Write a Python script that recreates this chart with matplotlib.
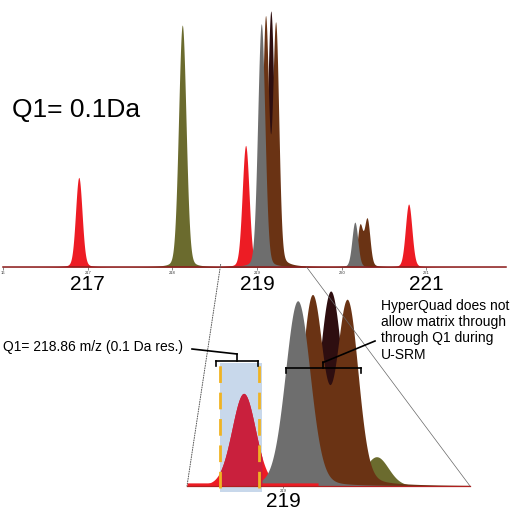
import numpy as np
import matplotlib
matplotlib.use("Agg")
import matplotlib.pyplot as plt
from matplotlib.lines import Line2D
from matplotlib.patches import Rectangle, ConnectionPatch

plt.rcParams['font.family'] = ['Liberation Sans', 'DejaVu Sans']

# peaks (m/z, relative height, sigma in Da)
peak_mz = [216.895, 218.117, 218.865, 219.05, 219.10, 219.163, 219.22,
           220.155, 220.215, 220.30, 220.79]
peak_height = [35, 94.5, 47.5, 95, 96, 100, 93.5, 17.5, 15.7, 18.4, 24.6]
peak_sigma = [0.038, 0.044, 0.040, 0.042, 0.036, 0.040, 0.036,
              0.034, 0.030, 0.032, 0.038]
peak_kind = ['red', 'olive', 'red', 'grey', 'brown', 'dark', 'brown',
             'grey', 'brown', 'brown', 'red']

# extra small matrix peak only seen in the zoomed trace
inset_extra_mz = [219.32]
inset_extra_height = [15]
inset_extra_sigma = [0.04]
inset_extra_kind = ['olive']

# low red baseline of the analyte trace in the zoomed view
red_floor_level = 1.6
red_floor_end = 219.12

colors = {'red': '#ED1C24', 'olive': '#6B6B2E', 'grey': '#6E6E6E',
          'brown': '#6A3314', 'dark': '#2E0E10'}
zorders = {'olive': 1, 'dark': 2, 'brown': 3, 'red': 4, 'grey': 5}

top_ticks = [216, 217, 218, 219, 220, 221]
top_ticklabels = ['16', '217', '218', '219', '220', '221']
big_labels = [217, 219, 221]

q1_window = (218.784, 218.928)


def profile(x, mz, h, s):
    # pseudo-voigt, mostly gaussian with a bit of tail
    g = np.exp(-(x - mz) ** 2 / (2 * s ** 2))
    gam = 0.06
    lo = gam ** 2 / ((x - mz) ** 2 + gam ** 2)
    return h * (0.9 * g + 0.1 * lo)


def draw_peaks(ax, x, mzs, hs, ss, kinds):
    curves = {}
    for mz, h, s, k in zip(mzs, hs, ss, kinds):
        curves.setdefault(k, np.zeros_like(x))
        curves[k] = curves[k] + profile(x, mz, h, s)
    for k, y in curves.items():
        ax.fill_between(x, 0, y, color=colors[k], lw=0, zorder=zorders[k])
    return curves


def P(x, y):
    return (x / 514, 1 - y / 510)


fig = plt.figure(figsize=(5.14, 5.10), dpi=100)

# ---- full spectrum
ax = fig.add_axes([3 / 514, 1 - 268 / 510, 503 / 514, 256 / 510])
xlim_top = (216.0, 221.94)
x = np.linspace(xlim_top[0], xlim_top[1], 5000)
draw_peaks(ax, x, peak_mz, peak_height, peak_sigma, peak_kind)
ax.set_xlim(xlim_top)
ax.set_ylim(0, 100)
for sp in ['top', 'right', 'left']:
    ax.spines[sp].set_visible(False)
ax.spines['bottom'].set_color('#8B1A1A')
ax.spines['bottom'].set_linewidth(1.1)
ax.spines['bottom'].set_zorder(6)
ax.set_yticks([])
ax.set_xticks(top_ticks)
ax.set_xticklabels(top_ticklabels)
ax.tick_params(axis='x', length=2, width=0.5, color='#555555', pad=0.5,
               labelsize=3, labelcolor='#333333')
for m in big_labels:
    ax.text(m, -17 / 256, str(m), transform=ax.get_xaxis_transform(),
            ha='center', va='center', fontsize=15, color='black')

fig.text(*P(12, 110), 'Q1= 0.1Da', fontsize=19, ha='left', va='center')

# ---- zoomed trace
ax2 = fig.add_axes([187 / 514, 1 - 487 / 510, 283 / 514, 195 / 510])
xlim_in = (218.671, 219.640)
xi = np.linspace(xlim_in[0], xlim_in[1], 3000)
curves = draw_peaks(ax2, xi,
                    peak_mz + inset_extra_mz,
                    peak_height + inset_extra_height,
                    peak_sigma + inset_extra_sigma,
                    peak_kind + inset_extra_kind)
floor = xi <= red_floor_end
ax2.fill_between(xi, 0, red_floor_level, where=floor, color=colors['red'],
                 lw=0, zorder=5.5)
# Q1 isolation window
ax2.add_patch(Rectangle((q1_window[0], -6 / 195), q1_window[1] - q1_window[0], (6 + 123) / 195,
                        transform=ax2.get_xaxis_transform(), facecolor='#C8D8EB',
                        edgecolor='none', zorder=0.5, clip_on=False))
inside = (xi >= q1_window[0]) & (xi <= q1_window[1])
ax2.fill_between(xi, 0, np.maximum(curves['red'], red_floor_level), where=inside,
                 color='#C9203D', lw=0, zorder=5.6)
for xv in [q1_window[0], q1_window[1] - 0.012]:
    ax2.plot([xv, xv], [-0.01, 121 / 195], transform=ax2.get_xaxis_transform(),
             color='#F0B323', lw=2.0, dashes=(6, 3.5), zorder=7, clip_on=False)
ax2.set_xlim(xlim_in)
ax2.set_ylim(0, 100)
for sp in ['top', 'right', 'left']:
    ax2.spines[sp].set_visible(False)
ax2.spines['bottom'].set_color('#B02020')
ax2.spines['bottom'].set_linewidth(0.9)
ax2.spines['bottom'].set_zorder(6)
ax2.patch.set_alpha(0)
ax2.set_yticks([])
ax2.set_xticks([219])
ax2.set_xticklabels(['219'])
ax2.tick_params(axis='x', length=1.5, width=0.5, color='#555555', pad=0.2,
                labelsize=3, labelcolor='#333333')
ax2.text(219, -15 / 195, '219', transform=ax2.get_xaxis_transform(),
         ha='center', va='center', fontsize=15)

# zoom connectors
con1 = ConnectionPatch(xyA=(218.57, 1), coordsA=ax.transData,
                       xyB=(xlim_in[0], 0), coordsB=ax2.transData,
                       color='#555555', lw=0.7, linestyle=(0, (1, 1.5)))
con2 = ConnectionPatch(xyA=(219.585, 0), coordsA=ax.transData,
                       xyB=(xlim_in[1], 0), coordsB=ax2.transData,
                       color='#666666', lw=0.5)
fig.add_artist(con1)
fig.add_artist(con2)


# brackets and annotations
def seg(p0, p1, lw=1.2):
    fig.add_artist(Line2D([P(*p0)[0], P(*p1)[0]], [P(*p0)[1], P(*p1)[1]],
                          color='black', lw=lw, transform=fig.transFigure))


seg((216, 362), (258, 362))
seg((216, 361.5), (216, 367))
seg((258, 361.5), (258, 367))
seg((237, 362), (237, 354.5))
seg((237, 355), (192, 350))

seg((286, 369), (361, 369))
seg((286, 368.5), (286, 374))
seg((361, 368.5), (361, 374))
seg((323, 369), (323, 363))
seg((323, 363.5), (375, 342))

fig.text(*P(3, 347), 'Q1= 218.86 m/z (0.1 Da res.)', fontsize=10,
         ha='left', va='center')
fig.text(*P(381, 299), 'HyperQuad does not\nallow matrix through\nthrough Q1 during\nU-SRM',
         fontsize=10, ha='left', va='top', linespacing=1.2)

fig.savefig('out.png', dpi=100)
